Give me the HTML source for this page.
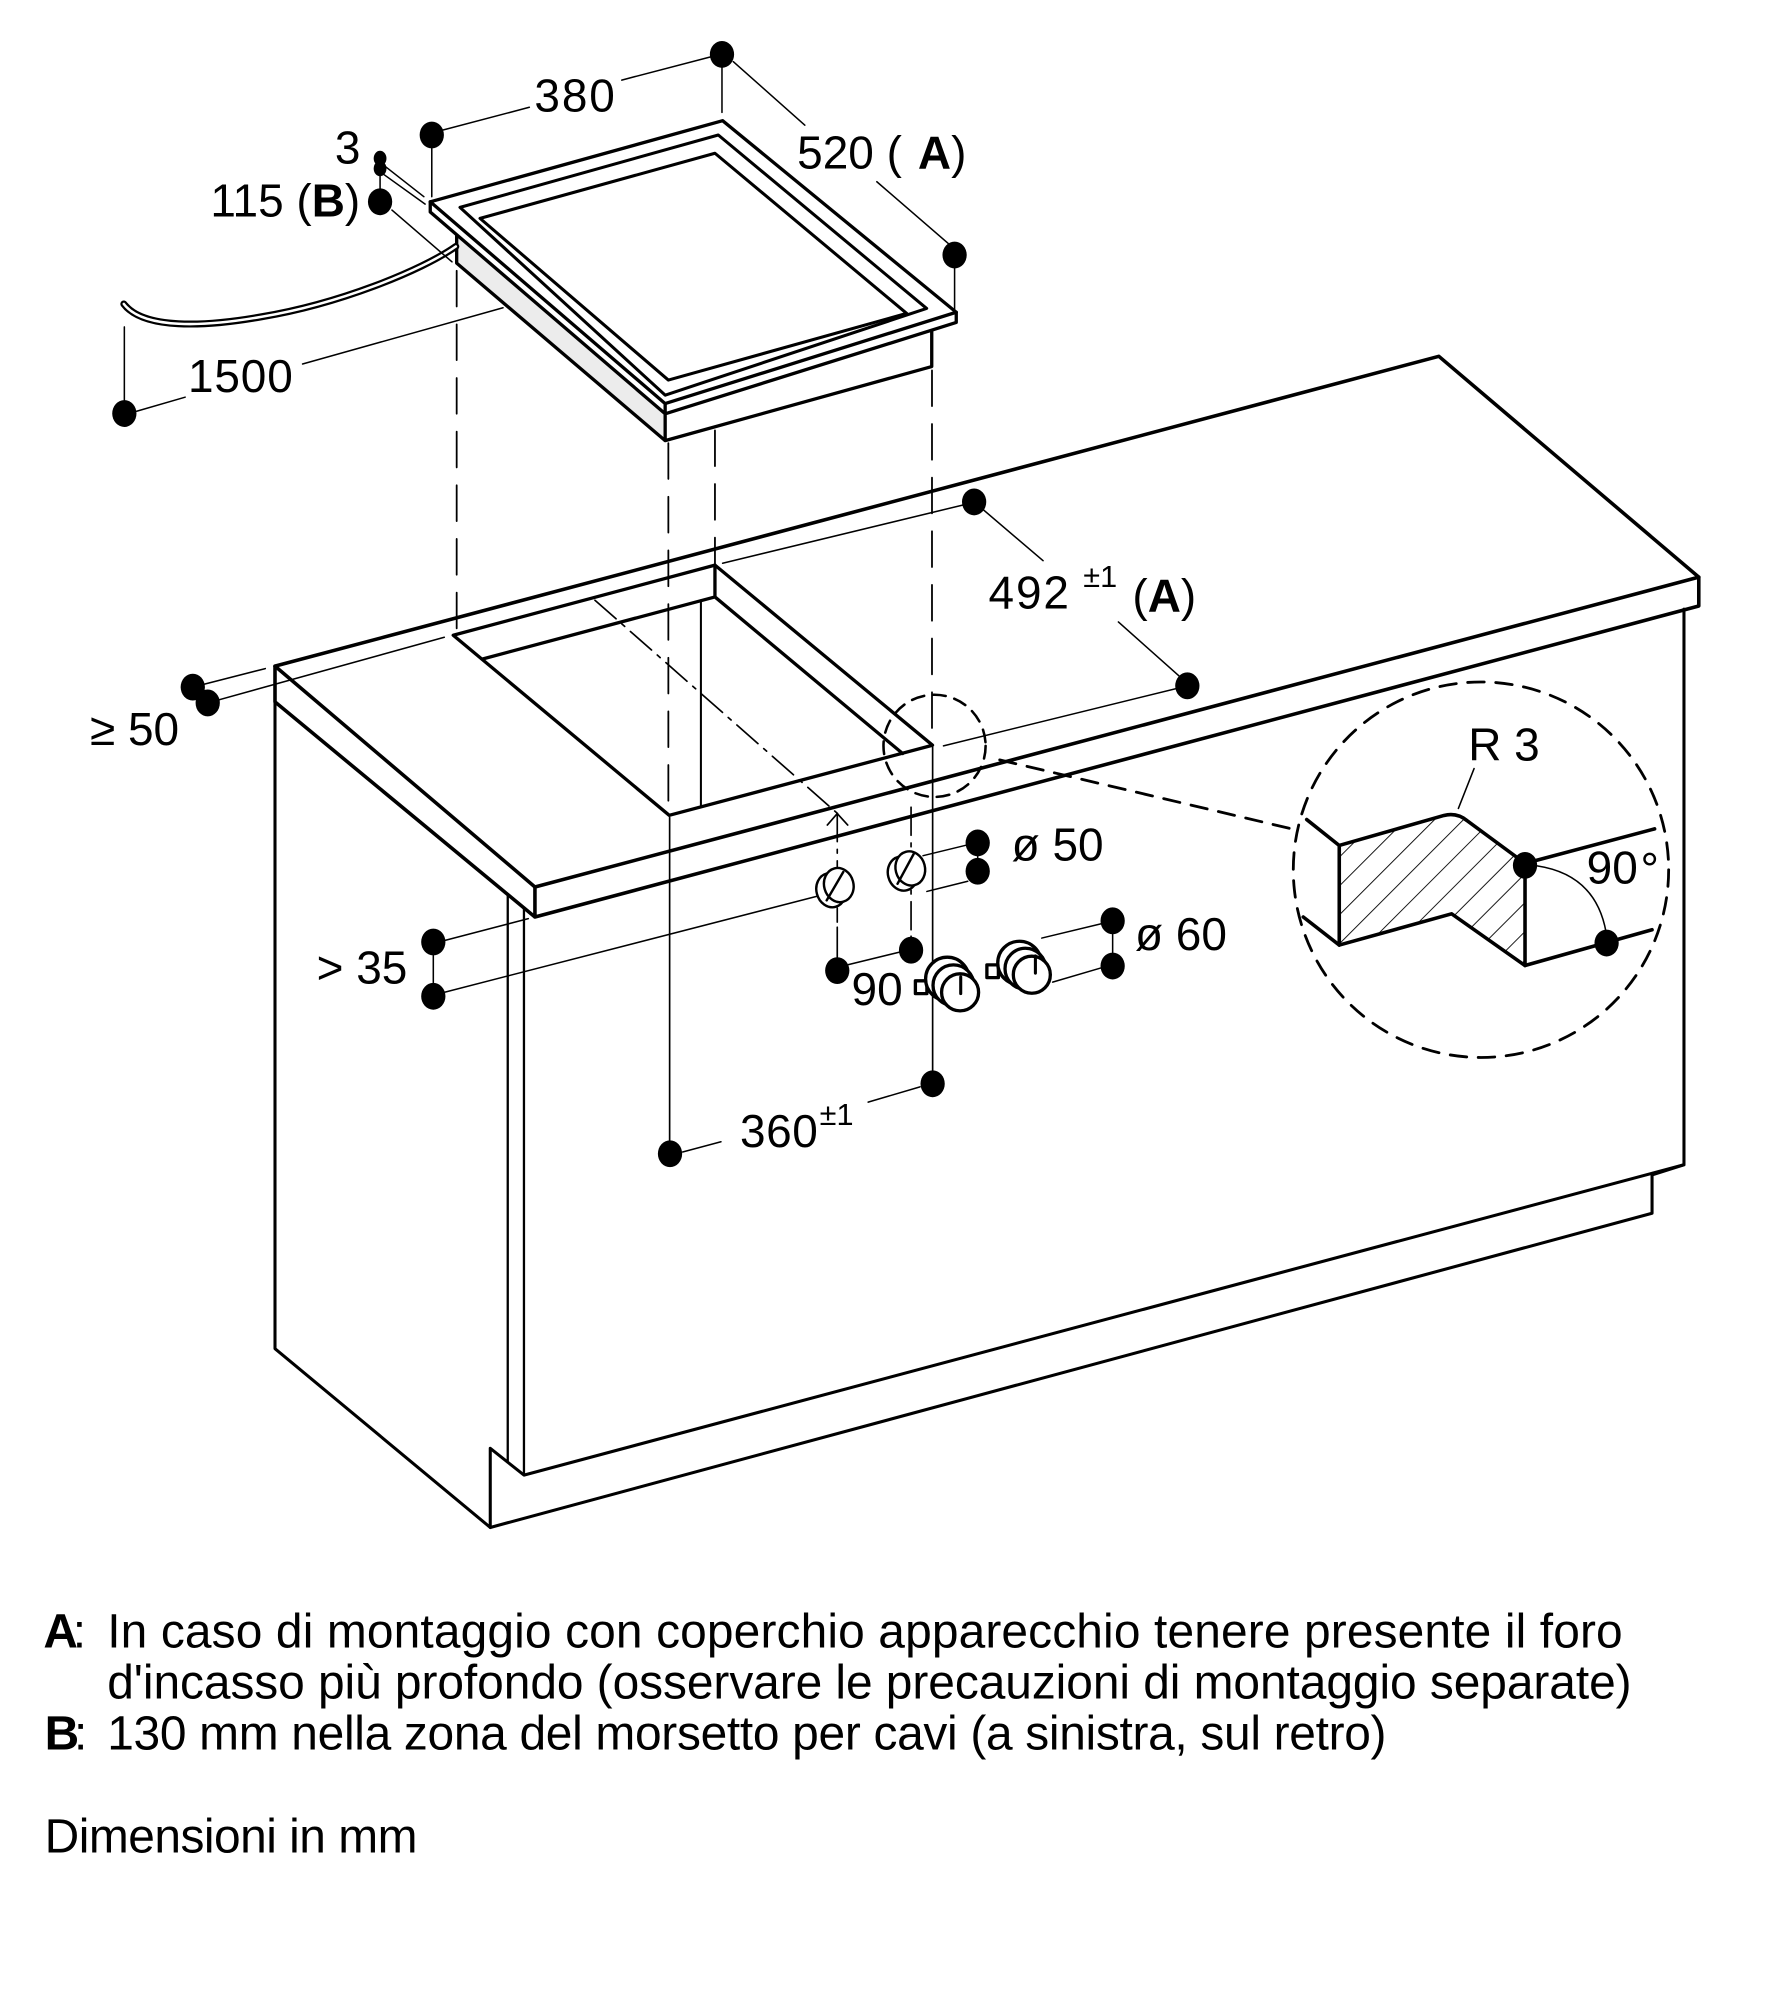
<!DOCTYPE html>
<html><head><meta charset="utf-8"><style>
html,body{margin:0;padding:0;background:#fff;overflow:hidden;}
svg{display:block}
text{font-family:"Liberation Sans",Arial,sans-serif;fill:#000}
</style></head><body>
<svg xmlns="http://www.w3.org/2000/svg" width="1781" height="2000" viewBox="0 0 1395 1566" preserveAspectRatio="none">
<defs>
<pattern id="h" patternUnits="userSpaceOnUse" width="16" height="16" patternTransform="rotate(45)">
<line x1="0" y1="0" x2="0" y2="16" stroke="#000" stroke-width="1.4"/>
</pattern>
</defs>
<rect x="0" y="0" width="1395" height="1566" fill="#fff"/>
<g fill="none" stroke="#000" stroke-linecap="round" stroke-linejoin="round">

<!-- countertop -->
<path stroke-width="2.8" d="M215.4,521.6 L1127,279 L1330.6,451.9 L419,694.5 Z"/>
<path stroke-width="2.8" d="M215.4,521.6 V549.6 L419,718 L1330.6,474.5 V451.9 M419,694.5 V718"/>

<!-- cabinet -->
<path stroke-width="2.4" d="M215.4,549.6 V1056 L384,1196 V1134 L410.4,1155 L1319,912 V477"/>
<path stroke-width="2.4" d="M1319,912 L1294,920 V950 L384,1196"/>
<path stroke-width="1.8" d="M397.7,700 V1145 M410.4,710.6 V1155"/>

<!-- cutout -->
<path stroke-width="2.6" d="M355,497.4 L560,442.5 L730.4,583.5 L524.2,638.4 Z"/>
<path stroke-width="2.6" d="M378,516 L560,467.4 L707,590 M560,442.5 V467.4"/>
<path stroke-width="1.6" d="M549,470 V631"/>

<!-- projection dashed lines -->
<path stroke-width="1.4" stroke-dasharray="28 14" d="M357.7,212 V497 M523.5,347 V638 M560,337 V442 M730,290 V583"/>
<path stroke-width="1.3" d="M524.5,640 V903 M730.5,585 V848"/>

<!-- dash-dot center lines -->
<path stroke-width="1.3" stroke-dasharray="22 6 3 6" d="M466,470 L656,637 M655.8,637 V722 M713.6,632 V731"/>
<path stroke-width="1.3" d="M655.8,726 V760 M713.6,733 V744 M648,646 L655.8,637 L664,646"/>

<!-- hob appliance -->
<path fill="#ececec" stroke="none" d="M357.7,184 L521,324 L521,345 L357.7,206 Z"/>
<path fill="#fff" stroke-width="2.6" d="M337,158 L566,94.5 L749,244.5 L521,316 Z"/>
<path stroke-width="2.6" d="M337,158 V166 L521,324 L749,252.5 V244.5 M521,316 V345 M357.7,184 V206 L521,345 L729.8,287 V258.5"/>
<path stroke-width="2.4" d="M360.3,162.4 L562.6,105.7 L725.8,241.5 L521,309.4 Z"/>
<path stroke-width="2.4" d="M376,171 L560,120 L710.2,245.4 L523.5,297.6 Z"/>

<!-- cable -->
<path stroke-width="5.5" d="M357,193 C330,212 265,238 205,248 C160,256 112,258 97,238"/>
<path stroke="#fff" stroke-width="2" d="M357,193 C330,212 265,238 205,248 C160,256 112,258 97,238"/>

<!-- dimension lines -->
<g stroke-width="1.2">
<path d="M338.2,105.7 V154 M347,101.8 L414.6,84 M487,62.7 L557,44.4 M565.5,42.6 V88"/>
<path d="M574.4,48.3 L630.4,98 M686.8,142.3 L742.7,190.6 M747.7,199.7 V243"/>
<path d="M302,130.5 L332,154 M299.5,135.8 L333,159.8 M297.7,135 V151"/>
<path d="M307,164.5 L354,205"/>
<path d="M97.4,256 V323.8 M107,322 L145,311 M237,285 L394,241"/>
<path d="M566,441 L756,395 M763,393 L817,439 M876,487 L930,535 M930,537 L739,584"/>
<path d="M151,538 L207.8,523.5 M162.7,550.4 L348,499"/>
<path d="M339.4,737.6 V780 M348.6,736.3 L413.8,719.3 M348.6,776.8 L643,701"/>
<path d="M723,670 L760,661 M726,698 L758,690 M765.8,660 V682"/>
<path d="M816,734.5 L863,723.2 M824.5,769 L863,757.7 M871.5,721 V756.4"/>
<path d="M664.5,755.3 L705,745.4"/>
<path d="M720.6,851 L680,863 M534.7,902 L564.7,894"/>
</g>

<!-- holes ø50 -->
<g stroke-width="1.9" fill="#fff">
<ellipse cx="651" cy="697" rx="11.5" ry="13.5" transform="rotate(-15 651 697)"/>
<ellipse cx="657" cy="693" rx="11.5" ry="13.5" transform="rotate(-15 657 693)"/>
<ellipse cx="707" cy="684" rx="11.5" ry="13.5" transform="rotate(-15 707 684)"/>
<ellipse cx="713" cy="680" rx="11.5" ry="13.5" transform="rotate(-15 713 680)"/>
</g>
<path stroke-width="1.9" d="M647.5,705 L660.5,682.8 M703,692 L716,668"/>

<!-- knobs -->
<g stroke-width="2.6" fill="#fff">
<rect x="717" y="768" width="9" height="10"/>
<circle cx="742" cy="766.5" r="17"/>
<circle cx="746.8" cy="771.5" r="16"/>
<circle cx="752" cy="777" r="14.5"/>
<rect x="773" y="755.5" width="9" height="10"/>
<circle cx="798.5" cy="754" r="17"/>
<circle cx="803.2" cy="758.5" r="16"/>
<circle cx="808.2" cy="763.2" r="14.5"/>
</g>
<path stroke-width="2.4" d="M752.5,765 V778 M811,748.5 V762"/>

<!-- detail -->
<circle cx="732" cy="584" r="40" stroke-width="2" stroke-dasharray="10 7"/>
<path stroke-width="2.2" stroke-dasharray="13 9" d="M783,595 L1016,650"/>
<circle cx="1160" cy="681" r="147" stroke-width="2.2" stroke-dasharray="13 9"/>
<path fill="url(#h)" stroke-width="2.8" d="M1049,662 L1131,638.5 Q1141,636 1149,642.5 L1194.5,676 L1194.5,756 L1137,715.5 L1049,740 Z"/>
<path stroke-width="2.8" d="M1023.5,641.7 L1049,662 M1020.8,718 L1049,740 M1194.5,676 L1296,649 M1194.5,756 L1294,728"/>
<path stroke-width="1.2" d="M1154.6,601.8 L1142.3,633 M1204,678 Q1250,685 1258,730"/>
</g>

<!-- dots -->
<g fill="#000">
<ellipse cx="338.2" cy="105.7" rx="9.5" ry="10.5"/>
<ellipse cx="565.5" cy="42.6" rx="9.5" ry="10.5"/>
<ellipse cx="747.7" cy="199.7" rx="9.5" ry="10.5"/>
<ellipse cx="297.7" cy="158" rx="9.5" ry="10.5"/>
<ellipse cx="297.7" cy="124" rx="5" ry="6"/>
<ellipse cx="297.7" cy="132" rx="5" ry="6"/>
<ellipse cx="97.4" cy="323.8" rx="9.5" ry="10.5"/>
<ellipse cx="763" cy="393" rx="9.5" ry="10.5"/>
<ellipse cx="930" cy="537" rx="9.5" ry="10.5"/>
<ellipse cx="151" cy="538" rx="9.5" ry="10.5"/>
<ellipse cx="162.7" cy="550.4" rx="9.5" ry="10.5"/>
<ellipse cx="339.4" cy="737.6" rx="9.5" ry="10.5"/>
<ellipse cx="339.4" cy="780.1" rx="9.5" ry="10.5"/>
<ellipse cx="765.8" cy="660" rx="9.5" ry="10.5"/>
<ellipse cx="765.8" cy="682.2" rx="9.5" ry="10.5"/>
<ellipse cx="871.5" cy="721" rx="9.5" ry="10.5"/>
<ellipse cx="871.5" cy="756.4" rx="9.5" ry="10.5"/>
<ellipse cx="655.8" cy="760" rx="9.5" ry="10.5"/>
<ellipse cx="713.6" cy="744" rx="9.5" ry="10.5"/>
<ellipse cx="730.5" cy="848.6" rx="9.5" ry="10.5"/>
<ellipse cx="524.8" cy="903.4" rx="9.5" ry="10.5"/>
<ellipse cx="1194.5" cy="677.6" rx="9.5" ry="10.5"/>
<ellipse cx="1258.4" cy="738.4" rx="9.5" ry="10.5"/>
</g>

<!-- labels -->
<g font-size="36">
<text x="418.6" y="87.5" textLength="63">380</text>
<text x="624.4" y="131.8">520 (<tspan x="719" font-weight="bold">A</tspan>)</text>
<text x="262.3" y="128">3</text>
<text x="164.8" y="169.7">115 (<tspan font-weight="bold">B</tspan>)</text>
<text x="147.3" y="306.8" textLength="82">1500</text>
<text x="774.3" y="476.5" textLength="63">492</text>
<text x="848.5" y="459.5" font-size="24">±1</text>
<text x="887" y="479">(<tspan font-weight="bold">A</tspan>)</text>
<text x="70.5" y="583.5">≥ 50</text>
<text x="248" y="770.2">&gt; 35</text>
<text x="792.4" y="673.6">ø 50</text>
<text x="889" y="744">ø 60</text>
<text x="667" y="787">90</text>
<text x="579.6" y="898" textLength="61">360</text>
<text x="642" y="881" font-size="24">±1</text>
<text x="1150" y="595.3">R 3</text>
<text x="1242.8" y="691.6">90</text>
<text x="1285" y="693">°</text>
</g>

<!-- legend -->
<g font-size="37.5">
<text x="34" y="1289.8" font-weight="bold">A</text><text x="57" y="1289.8">:</text>
<text x="84" y="1289.8" textLength="1187">In caso di montaggio con coperchio apparecchio tenere presente il foro</text>
<text x="84" y="1330" textLength="1194">d'incasso più profondo (osservare le precauzioni di montaggio separate)</text>
<text x="35" y="1370" font-weight="bold">B</text><text x="58" y="1370">:</text>
<text x="84" y="1370" textLength="1002">130 mm nella zona del morsetto per cavi (a sinistra, sul retro)</text>
<text x="35" y="1450.4" textLength="292">Dimensioni in mm</text>
</g>
</svg>
</body></html>
